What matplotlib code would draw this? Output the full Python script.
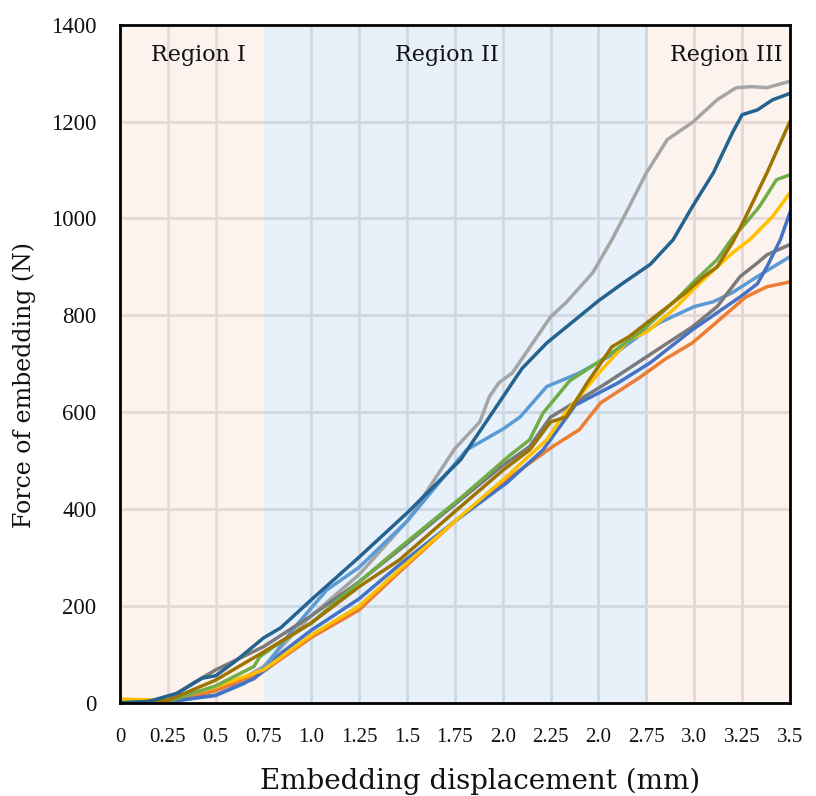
import matplotlib.pyplot as plt
import numpy as np

# Embedding displacement (mm) / force (N), one pair of lists per test
gray_x = [0, 0.2, 0.4, 0.6, 0.75, 0.9, 1.0, 1.25, 1.5, 1.75, 1.88, 1.93, 1.98, 2.05, 2.25, 2.33, 2.47, 2.57, 2.66, 2.75, 2.86, 2.99, 3.12, 3.22, 3.3, 3.38, 3.5]
gray_y = [3, 5, 15, 40, 75, 140, 180, 265, 375, 525, 580, 632, 661, 681, 797, 826, 888, 956, 1024, 1094, 1163, 1198, 1245, 1270, 1272, 1270, 1283]

dblue_x = [0, 0.15, 0.3, 0.43, 0.5, 0.6, 0.75, 0.84, 1.0, 1.25, 1.5, 1.78, 1.93, 2.1, 2.23, 2.5, 2.63, 2.77, 2.89, 2.99, 3.1, 3.2, 3.25, 3.33, 3.41, 3.5]
dblue_y = [0, 3, 20, 51, 56, 85, 134, 155, 213, 301, 392, 502, 590, 690, 743, 830, 867, 905, 956, 1024, 1094, 1177, 1214, 1224, 1245, 1258]

lblue_x = [0, 0.25, 0.5, 0.65, 0.75, 0.9, 1.08, 1.25, 1.5, 1.7, 1.81, 2.0, 2.09, 2.23, 2.4, 2.6, 2.72, 2.82, 3.0, 3.1, 3.2, 3.33, 3.5]
lblue_y = [0, 2, 15, 40, 70, 150, 233, 280, 375, 470, 522, 565, 590, 653, 681, 725, 760, 785, 818, 828, 847, 880, 921]

green_x = [0, 0.25, 0.5, 0.7, 0.73, 0.8, 1.0, 1.25, 1.46, 1.78, 2.04, 2.14, 2.21, 2.35, 2.54, 2.72, 2.9, 3.0, 3.12, 3.2, 3.27, 3.34, 3.43, 3.5]
green_y = [0, 3, 35, 75, 95, 115, 165, 250, 320, 423, 512, 543, 598, 665, 714, 766, 830, 870, 915, 960, 991, 1024, 1080, 1090]

brown_x = [0, 0.25, 0.5, 0.75, 1.0, 1.25, 1.46, 1.75, 2.0, 2.14, 2.25, 2.33, 2.44, 2.57, 2.66, 2.82, 2.95, 3.05, 3.12, 3.2, 3.27, 3.38, 3.5]
brown_y = [0, 5, 47, 105, 165, 240, 295, 395, 480, 522, 580, 590, 660, 735, 756, 805, 845, 880, 900, 950, 1004, 1094, 1200]

gold_x = [0, 0.25, 0.5, 0.75, 1.0, 1.25, 1.46, 1.75, 2.0, 2.23, 2.31, 2.5, 2.66, 2.75, 2.9, 3.03, 3.2, 3.29, 3.41, 3.5]
gold_y = [8, 5, 33, 68, 140, 200, 275, 375, 460, 543, 590, 680, 750, 765, 815, 867, 929, 956, 1004, 1053]

blue_x = [0, 0.25, 0.5, 0.7, 0.78, 0.82, 0.85, 1.0, 1.25, 1.46, 1.75, 2.02, 2.21, 2.38, 2.6, 2.77, 2.99, 3.1, 3.24, 3.33, 3.38, 3.45, 3.5]
blue_y = [0, 2, 16, 50, 75, 95, 105, 150, 215, 285, 375, 454, 522, 615, 660, 702, 770, 800, 838, 865, 900, 956, 1012]

dgray_x = [0, 0.25, 0.4, 0.5, 0.75, 1.0, 1.25, 1.46, 1.75, 2.0, 2.14, 2.25, 2.51, 2.75, 2.85, 2.99, 3.12, 3.24, 3.33, 3.38, 3.5]
dgray_y = [0, 8, 45, 68, 116, 180, 250, 316, 410, 490, 529, 590, 652, 714, 740, 776, 818, 880, 908, 925, 946]

orange_x = [0, 0.25, 0.5, 0.75, 1.0, 1.25, 1.46, 1.75, 2.0, 2.26, 2.4, 2.51, 2.72, 2.85, 2.99, 3.1, 3.27, 3.38, 3.5]
orange_y = [0, 2, 25, 65, 135, 192, 270, 375, 455, 529, 564, 619, 673, 710, 743, 780, 838, 859, 869]

tick_pos = [0, 0.25, 0.5, 0.75, 1.0, 1.25, 1.5, 1.75, 2.0, 2.25, 2.5, 2.75, 3.0, 3.25, 3.5]
tick_text = ["0", "0.25", "0.5", "0.75", "1.0", "1.25", "1.5", "1.75", "2.0", "2.25", "2.0", "2.75", "3.0", "3.25", "3.5"]
regions = [(0, 0.75, "Region I", 0.41), (0.75, 2.75, "Region II", 1.71), (2.75, 3.5, "Region III", 3.17)]

plt.rcParams['font.family'] = ['Liberation Serif', 'DejaVu Serif']
word_font = ['DejaVu Serif']

fig = plt.figure(figsize=(8.16, 7.96), dpi=100)
ax = fig.add_axes([0.147, 0.117, 0.821, 0.852])
ax.set_xlim(0, 3.5)
ax.set_ylim(0, 1400)

# shaded regions, each with its own grid colour
for i, (a, b, name, xc) in enumerate(regions):
    fill = "#e8f0fa" if i == 1 else "#fdf3ee"
    grid = "#cdd8e1" if i == 1 else "#e6d8d5"
    ax.axvspan(a, b, color=fill, zorder=0, lw=0)
    for t in tick_pos:
        if a < t < b or (i == 1 and t == b):
            ax.plot([t, t], [0, 1400], color=grid, lw=2, zorder=1)
    for yv in range(200, 1400, 200):
        ax.plot([a, b], [yv, yv], color=grid, lw=2, zorder=1)
    ax.text(xc, 1338, name, ha="center", va="center", fontsize=16, family=word_font,
            color="#111111", zorder=4)

series = [
    (gray_x, gray_y, "#a5a5a5"),
    (lblue_x, lblue_y, "#5b9bd5"),
    (dgray_x, dgray_y, "#7a7a7a"),
    (orange_x, orange_y, "#ed7d31"),
    (blue_x, blue_y, "#4472c4"),
    (gold_x, gold_y, "#ffc000"),
    (green_x, green_y, "#70ad47"),
    (brown_x, brown_y, "#9e7400"),
    (dblue_x, dblue_y, "#24628f"),
]
for xs, ys, c in series:
    ax.plot(xs, ys, color=c, lw=2.5, zorder=3, solid_capstyle="round", solid_joinstyle="round")

ax.set_xticks(tick_pos)
ax.set_xticklabels(tick_text)
ax.set_yticks(range(0, 1401, 200))
ax.tick_params(axis="x", length=0, pad=18, labelsize=15, labelcolor="#111111")
ax.tick_params(axis="y", length=0, pad=17, labelsize=16.5, labelcolor="#111111")
for s in ax.spines.values():
    s.set_linewidth(2)
    s.set_color("black")
    s.set_zorder(5)

fig.text(480 / 816, 1 - 789 / 796, "Embedding displacement (mm)", ha="center", va="baseline",
         fontsize=20, family=word_font, color="#111111")
fig.text(24 / 816, 1 - 385 / 796, "Force of embedding (N)", ha="center", va="center",
         rotation=90, fontsize=17, family=word_font, color="#111111")

fig.savefig("out.png", dpi=100)
